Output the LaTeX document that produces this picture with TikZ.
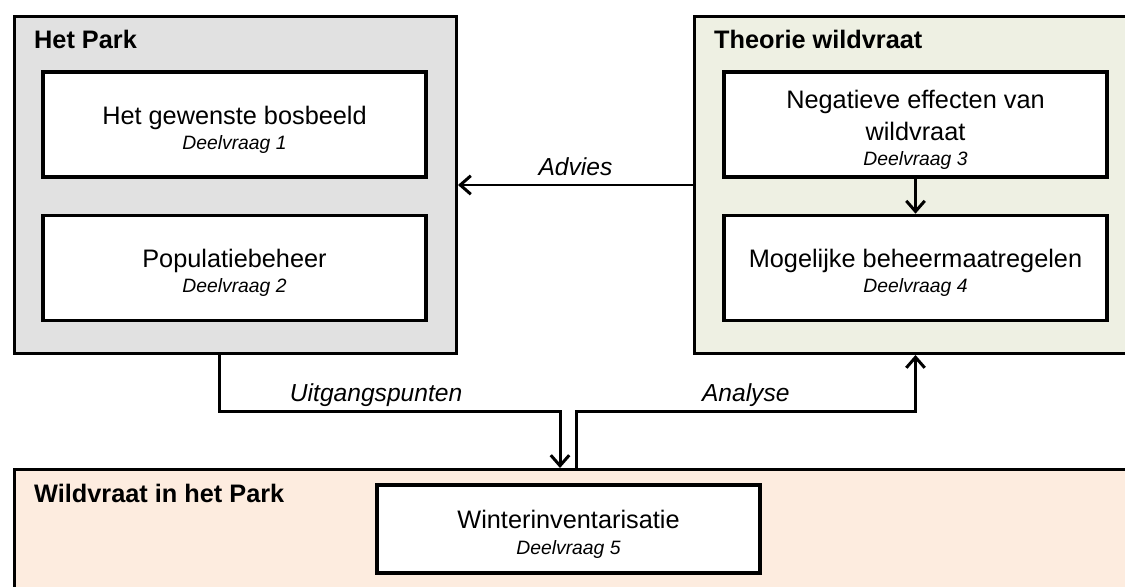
\documentclass[tikz,border=0pt]{standalone}
\usepackage{fontspec}
\setmainfont{Liberation Sans}
\usetikzlibrary{arrows.meta,positioning,calc}

\definecolor{parkgrey}{RGB}{225,225,225}
\definecolor{theoriegreen}{RGB}{238,240,227}
\definecolor{wildpink}{RGB}{253,236,223}

\tikzset{
	outerbox/.style={draw, line width=1.7pt, rectangle, inner sep=0pt, anchor=north west},
	innerbox/.style={draw, line width=1.9pt, fill=white, minimum width=7.66cm, align=center, font=\fontsize{14.4}{18}\selectfont},
	boxtitle/.style={anchor=base west, font=\fontsize{14.4}{17}\selectfont\bfseries},
	conn/.style={line width=1.7pt, -{Straight Barb[length=6pt,width=10.5pt]}},
	connlabel/.style={anchor=base, yshift=5.5pt, font=\fontsize{14}{17}\selectfont\itshape},
}
\newcommand{\vraagstrut}{\rule{0pt}{16.5pt}}
\newcommand{\deelvraag}[1]{\\[-3.6pt]{\fontsize{11}{13}\selectfont\itshape Deelvraag #1}}

\begin{document}
\begin{tikzpicture}
			%%%%% START %%%%%
			\useasboundingbox (0, 0) rectangle (22.5, -11.72);
			\clip (0, 0) rectangle (22.5, -11.72);
			
			% de drie kaders
			\node[outerbox, fill=parkgrey, minimum width=8.84cm, minimum height=6.74cm] (park) at (0.26, -0.30) {};
			\node[outerbox, fill=theoriegreen, minimum width=9.4cm, minimum height=6.74cm] (theorie) at (13.86, -0.30) {};
			\node[outerbox, fill=wildpink, minimum width=23cm, minimum height=3cm] (wildpark) at (0.26, -9.36) {};
			
			\node[boxtitle] (parktitle) at (0.56, -0.96) {Het Park};
			\node[boxtitle] (theorietitle) at (14.16, -0.96) {Theorie wildvraat};
			\node[boxtitle] (wildtitle) at (0.56, -10.04) {Wildvraat in het Park};
			
			% deelvragen
			\node[innerbox, minimum height=2.1cm] (bosbeeld) at (4.69, -2.49) {\vraagstrut Het gewenste bosbeeld\deelvraag{1}};
			\node[innerbox, minimum height=2.1cm, below=0.7cm of bosbeeld] (populatie) {\vraagstrut Populatiebeheer\deelvraag{2}};
			
			\node[innerbox, minimum height=2.1cm] (effect) at (18.31, -2.49) {\vraagstrut Negatieve effecten van\\wildvraat\deelvraag{3}};
			\node[innerbox, minimum height=2.1cm, below=0.7cm of effect] (maatr) {\vraagstrut Mogelijke beheermaatregelen\deelvraag{4}};
			
			\node[innerbox, minimum height=1.76cm] (winter) at (11.37, -10.58) {\vraagstrut Winterinventarisatie\deelvraag{5}};
			
			% pijlen
			\coordinate (lane) at (11.36, -8.22);
			
			\draw[conn] (effect) -- (maatr);
			\draw[conn] (theorie.west) -- node[connlabel] {Advies} (park.east);
			\draw[conn] ([xshift=-0.32cm]park.south) |- node[connlabel, pos=0.73] {Uitgangspunten} ($(lane)+(-0.16, 0)$) -- ($(lane |- wildpark.north)+(-0.16, 0)$);
			\draw[conn] ($(lane |- wildpark.north)+(0.16, 0)$) -- ($(lane)+(0.16, 0)$) -| node[connlabel, pos=0.25] {Analyse} (maatr |- theorie.south);
			
			%%%%% END %%%%%
\end{tikzpicture}
\end{document}
